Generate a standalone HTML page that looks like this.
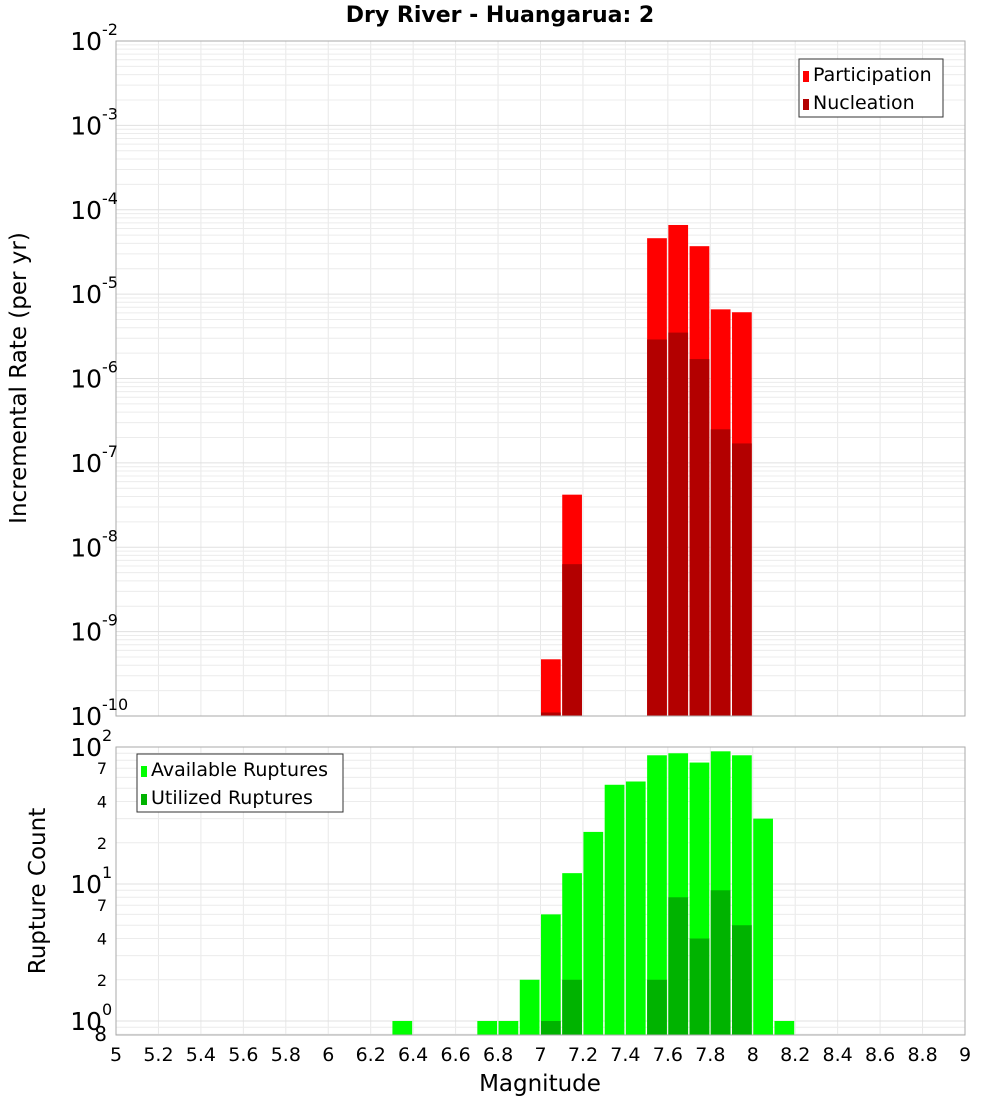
<!DOCTYPE html>
<html><head><meta charset="utf-8"><style>
body{margin:0;background:#fff}
svg{font-family:"DejaVu Sans","Liberation Sans",sans-serif}
</style></head><body>
<svg id="c" width="1000" height="1100" xmlns="http://www.w3.org/2000/svg">
<rect width="1000" height="1100" fill="#fff"/>
<text x="500" y="22" text-anchor="middle" font-size="22" font-weight="bold">Dry River - Huangarua: 2</text>
<text transform="translate(26,378) rotate(-90)" text-anchor="middle" font-size="23">Incremental Rate (per yr)</text>
<text transform="translate(45,891) rotate(-90)" text-anchor="middle" font-size="23">Rupture Count</text>
<text x="540" y="1091" text-anchor="middle" font-size="23">Magnitude</text>
<g id="topg"></g><g id="botg"></g>
</svg>
<script>
const bins=[7.0,7.1,7.5,7.6,7.7,7.8,7.9];
const participation=[4.7e-10,4.2e-8,4.6e-5,6.6e-5,3.7e-5,6.6e-6,6.1e-6];
const nucleation=[1.1e-10,6.3e-9,2.9e-6,3.5e-6,1.7e-6,2.5e-7,1.7e-7];
const countBins=[6.3,6.7,6.8,6.9,7.0,7.1,7.2,7.3,7.4,7.5,7.6,7.7,7.8,7.9,8.0,8.1];
const available=[1,1,1,2,6,12,24,53,56,87,90,77,93,87,30,1];
const utilBins=[7.0,7.1,7.5,7.6,7.7,7.8,7.9];
const utilized=[1,2,2,8,4,9,5];
const xTicks=[5,5.2,5.4,5.6,5.8,6,6.2,6.4,6.6,6.8,7,7.2,7.4,7.6,7.8,8,8.2,8.4,8.6,8.8,9];
const topExps=[-2,-3,-4,-5,-6,-7,-8,-9,-10];
const botExps=[2,1,0];
const botMinor=[7,4,2];

const NS="http://www.w3.org/2000/svg";
const X0=116,X1=965;
const xs=m=>X0+(m-5)/4*(X1-X0);
const T0=41,T1=716;
const ty=v=>T0+(-2-Math.log10(v))/8*(T1-T0);
const B0=747,B1=1035,BD=137;
const by=v=>B0+(2-Math.log10(v))*BD;
function el(p,t,a,txt){const e=document.createElementNS(NS,t);for(const k in a)e.setAttribute(k,a[k]);if(txt!==undefined)e.textContent=txt;p.appendChild(e);return e;}
const gTop=document.getElementById('topg'),gBot=document.getElementById('botg');

function grid(g,y0,y1,yf,decs){
  for(const t of xTicks){const l=el(g,'line',{x1:xs(t),x2:xs(t),y1:y0,y2:y1,stroke:'#e8e8e8'});
  
  }
  for(const d of decs)for(let k=1;k<10;k++){const y=yf(k*Math.pow(10,d));if(y<y0||y>y1)continue;
    const l=el(g,'line',{x1:X0,x2:X1,y1:y,y2:y,stroke:k==1?'#e0e0e0':'#ececec'});
    
    }
}
grid(gTop,T0,T1,ty,[-10,-9,-8,-7,-6,-5,-4,-3,-2]);
grid(gBot,B0,B1,by,[-1,0,1,2]);

const bw=(X1-X0)/40;
bins.forEach((m,i)=>{
  const x=xs(m)+0.5,w=bw-1.5;
  const p=el(gTop,'rect',{x:x,y:ty(participation[i]),width:w,height:T1-ty(participation[i]),fill:'#ff0000'});
  
  
  const yn=Math.min(ty(nucleation[i]),T1);
  const n=el(gTop,'rect',{x:x,y:yn,width:w,height:T1-yn,fill:'#b30000'});
  
  
});
countBins.forEach((m,i)=>{
  const r=el(gBot,'rect',{x:xs(m)+0.5,y:by(available[i]),width:bw-1.5,height:B1-by(available[i]),fill:'#00ff00'});
  
  
});
utilBins.forEach((m,i)=>{
  const r=el(gBot,'rect',{x:xs(m)+0.5,y:by(utilized[i]),width:bw-1.5,height:B1-by(utilized[i]),fill:'#00b300'});
  
  
});

let f=el(gTop,'rect',{x:X0,y:T0,width:X1-X0,height:T1-T0,fill:'none',stroke:'#aaa'});


f=el(gBot,'rect',{x:X0,y:B0,width:X1-X0,height:B1-B0,fill:'none',stroke:'#aaa'});



function pow(g,y,e){const t=el(g,'text',{x:102,y:y+9,'text-anchor':'end','font-size':25});
  
  
  t.textContent='10';
  const s=el(g,'text',{x:102,y:y-6,'font-size':16},String(e));
  
  }
topExps.forEach(e=>pow(gTop,ty(Math.pow(10,e)),e));
botExps.forEach(e=>{pow(gBot,by(Math.pow(10,e)),e);
  botMinor.forEach(k=>{const v=k*Math.pow(10,e);const y=by(v);if(y<B0||y>B1)return;
    const t=el(gBot,'text',{x:107,y:y+6,'text-anchor':'end','font-size':16},String(k));
    
    });});
const e8=el(gBot,'text',{x:107,y:1041,'text-anchor':'end','font-size':20},'8');



xTicks.forEach(t=>{const l=el(gBot,'text',{x:xs(t),y:1061,'text-anchor':'middle','font-size':19},String(t));
  
  });

function legend(g,x,y,w,items,name){
  const gg=el(g,'g',{});
  
  
  el(gg,'rect',{x:x,y:y,width:w,height:58,fill:'#fff',stroke:'#333'});
  items.forEach((it,i)=>{
    const s=el(gg,'rect',{x:x+4,y:y+12+i*28,width:6,height:11,fill:it[1]});
    
    
    const t=el(gg,'text',{x:x+14,y:y+22+i*28,'font-size':19},it[0]);
    
    });
}
legend(gTop,799,59,144,[['Participation','#ff0000'],['Nucleation','#b30000']],'top-legend');
legend(gBot,137,754,206,[['Available Ruptures','#00ff00'],['Utilized Ruptures','#00b300']],'bottom-legend');
</script>
</body></html>
